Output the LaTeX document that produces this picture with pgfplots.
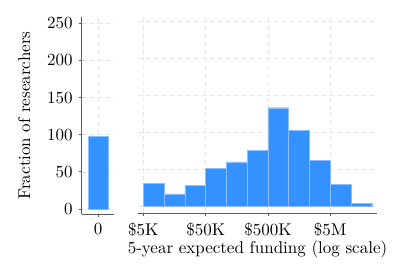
\documentclass[border=0pt]{standalone}
\usepackage{pgfplots}
\pgfplotsset{compat=1.18}
\definecolor{barblue}{RGB}{51,146,255}
\definecolor{baredge}{RGB}{140,190,255}
\definecolor{gridc}{RGB}{230,230,230}
\definecolor{spine}{RGB}{90,90,90}
\pgfplotsset{
  common/.style={
    scale only axis,
    height=116.24pt,
    ymin=-7.1, ymax=258.9,
    ytick={0,50,100,150,200,250},
    grid=major,
    major grid style={gridc, dash pattern=on 2.9pt off 1.8pt, line width=0.42pt},
    axis line style={spine, line width=0.47pt},
    major tick style={spine, line width=0.47pt},
    minor tick style={draw=none},
    tick align=outside,
    major tick length=1.8pt,
    tick label style={font=\fontsize{10}{12}\selectfont},
    label style={font=\fontsize{10}{12}\selectfont},
    clip=false,
  }
}
\begin{document}
\begin{tikzpicture}[x=1pt,y=1pt]
\path[use as bounding box] (0,0) rectangle (232.35,164.12);
% left panel: zero funding
\begin{axis}[common,
  at={(48.06pt,38.06pt)}, anchor=south west,
  width=19.18pt,
  xmin=-0.84, xmax=0.84,
  xtick={0}, xticklabels={0},
  axis x line*=bottom, axis y line*=left,
  ylabel={Fraction of researchers},
  ylabel style={yshift=3pt},
]
\addplot[ybar interval, fill=barblue, draw=baredge, line width=0.25pt]
  coordinates {(-0.5,97.8) (0.5,97.8)};
\end{axis}
% right panel: positive funding, log scale
\begin{axis}[common,
  at={(81.0pt,38.65pt)}, anchor=south west,
  width=140.94pt,
  xmode=log,
  xmin=4064, xmax=28500000,
  xtick={5000,50000,500000,5000000},
  xticklabels={\$5K,\$50K,\$500K,\$5M},
  axis x line*=bottom, axis y line*=left,
  y axis line style={draw=none},
  ytick style={draw=none},
  yticklabels={},
  xlabel={5-year expected funding (log scale)},
  xlabel style={yshift=4pt},
  ymin=-8.9, ymax=257.1,
]
\addplot[ybar interval, fill=barblue, draw=baredge, line width=0.25pt]
  coordinates {
  (5000,31.4)
  (10772,17.3)
  (23208,28.6)
  (50000,51.4)
  (107722,60.5)
  (232079,75.5)
  (500000,133.2)
  (1077217,103.2)
  (2320794,62.3)
  (5000000,30.5)
  (10772173,4.5)
  (23207944,4.5)
  };
\end{axis}
\end{tikzpicture}
\end{document}
